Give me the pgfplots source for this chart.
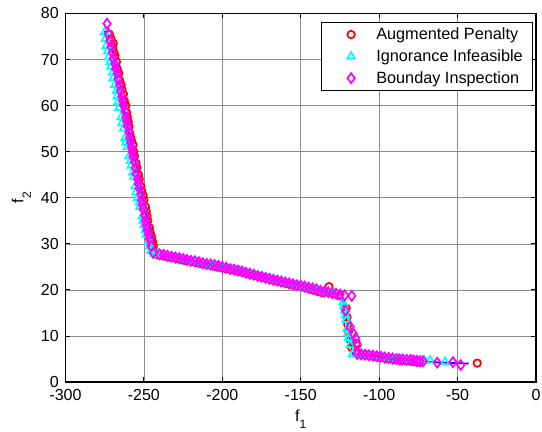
\documentclass[border=0pt]{standalone}
\usepackage{fontspec}
\setmainfont{Liberation Sans}
\usepackage{pgfplots}
\pgfplotsset{compat=1.18}

\definecolor{mred}{rgb}{1,0,0}
\definecolor{mcyan}{rgb}{0,1,1}
\definecolor{mmag}{rgb}{1,0,1}
\definecolor{mblue}{rgb}{0,0,1}

% MATLAB-like subscript: set mostly below the baseline
\newcommand\lsub[1]{\raisebox{-5.5pt}{\fontsize{9}{10}\selectfont #1}}

\pgfplotsset{
  mylegend/.style={legend image code/.code={%
    \draw[##1] plot coordinates {(15.75pt,0pt)};
    \path (0pt,0pt) (32pt,0pt);}},
}

\begin{document}
\begin{tikzpicture}
\begin{axis}[
    scale only axis,
    width=352.9pt, height=276.4pt,
    xmin=-300, xmax=0, ymin=0, ymax=80,
    xtick={-300,-250,...,0}, ytick={0,10,...,80},
    grid=major,
    major grid style={gray!90, line width=0.4pt},
    axis line style={line width=1.2pt},
    tick align=inside,
    major tick length=3.5pt,
    tick style={black, line width=0.6pt},
    /pgf/number format/assume math mode=true,
    ticklabel style={font=\fontsize{12}{14}\selectfont},
    xticklabel style={yshift=-2pt},
    yticklabel style={xshift=-1.5pt},
    xlabel={f\lsub{1}},
    ylabel={f\lsub{2}},
    label style={font=\fontsize{12}{14}\selectfont},
    xlabel style={at={(axis description cs:0.5,0)}, anchor=north, yshift=-17.5pt},
    ylabel style={at={(axis description cs:0,0.5)}, anchor=south, yshift=22.5pt},
    legend style={at={(rel axis cs:0.994,0.977)}, anchor=north east,
        font=\fontsize{12.2}{14}\selectfont, draw=black, line width=0.6pt,
        row sep=2pt, inner xsep=5.5pt, inner ysep=2pt},
    legend cell align=left,
    every axis plot/.append style={line width=1.3pt},
]

\addplot[only marks, mylegend, mred, mark=o, mark size=2.8pt] coordinates {
(-272,75.5) (-271,74.5) (-269.5,73.5) (-270,72.5) (-270.5,73) (-269,71.5) (-268.5,70.8)
(-267.5,69.5) (-267,68) (-266,67) (-265.5,65.5) (-264.5,64.5) (-264,63.5) (-263,62.5)
(-262.5,61) (-261.5,60) (-261,58.5) (-260.5,57.5) (-260,56.5) (-259.5,55.5) (-259,54)
(-258.5,53.2) (-258,52.5) (-257,51.5) (-256.5,50) (-256,49) (-255,47.5) (-254.5,46.5)
(-253.5,45) (-253,44) (-252,42.5) (-251.5,41.5) (-250.5,40.5) (-250,39.5) (-249,38)
(-248.5,37) (-248,36) (-247.5,35) (-246.5,33.5) (-246,32.5) (-245,31.5) (-244.5,30.5)
(-244,29.5) (-243,28.2)
(-241,27.6) (-238.5,27.5) (-236,27.3) (-233.5,27.1) (-231,27.0) (-228.5,26.8) (-226,26.6)
(-223.5,26.4) (-221,26.3) (-218.5,26.1) (-216,25.9) (-213.5,25.7) (-211,25.6) (-208.5,25.4)
(-206,25.2) (-203.5,25.0) (-201,24.9) (-198.5,24.7) (-196,24.6) (-193.5,24.4) (-191,24.1)
(-188.5,24.0) (-186,23.8) (-183.5,23.5) (-181,23.3) (-178.5,23.1) (-176,22.9) (-173.5,22.7)
(-171,22.5) (-168.5,22.2) (-166,22.0) (-163.5,21.8) (-161,21.6) (-158.5,21.4) (-156,21.2)
(-153.5,21.0) (-151,20.9) (-148.5,20.6) (-146,20.4) (-143.5,20.1) (-141,19.9) (-138.5,19.6)
(-136,19.4) (-132,20.7) (-129,19.1) (-126,18.8)
(-121,16) (-120.5,14) (-120,12.5) (-119.5,11) (-118.5,9.2) (-114.5,8.4) (-117.5,7.5)
(-113,6.2) (-110.5,6.0) (-108,5.9) (-105.5,5.7) (-103,5.6) (-100.5,5.4) (-98,5.3)
(-95.5,5.1) (-93,5.0) (-90.5,4.9) (-88,4.8) (-86,4.7) (-84,4.7) (-82,4.6) (-80,4.5)
(-78.5,4.5) (-77,4.4) (-75.5,4.3) (-74,4.3) (-37.5,4.1)
};
\addlegendentry{Augmented Penalty}

\addplot[only marks, mylegend, mcyan, mark=triangle, mark size=3.3pt] coordinates {
(-275,76) (-274.5,74.5) (-274,73) (-273,71.8) (-272.5,70.5) (-271.5,69.5) (-271,68.5)
(-270,67.2) (-269.5,66) (-268.5,64.5) (-267.5,63.2) (-267,62) (-266.5,60.8) (-266,59.5)
(-264.5,57.5) (-264,56.2) (-263,55) (-262,53) (-261.5,52) (-260.5,51) (-259.5,49)
(-258.5,48) (-258,47) (-257,45.5) (-256.5,44.5) (-255.5,42.5) (-255,41.2) (-254,40)
(-253,39) (-252.5,38) (-251,36) (-250.5,35) (-250,34) (-249,33) (-248.5,32)
(-247,30.5) (-246,29.5) (-245.5,28.5) (-243,27.8)
(-241,27.8) (-239,27.6) (-237,27.5) (-234.5,27.3) (-232,27.1) (-229.5,27.0) (-227,26.8)
(-224.5,26.6) (-222,26.4) (-219.5,26.2) (-217,26.1) (-214.5,25.9) (-212,25.7) (-209.5,25.5)
(-207,25.3) (-204.5,25.2) (-202,25.0) (-199.5,24.8) (-197,24.7) (-194.5,24.5) (-192,24.3)
(-189.5,24.1) (-187,23.9) (-184.5,23.7) (-182,23.5) (-179.5,23.3) (-177,23.1) (-174.5,22.9)
(-172,22.6) (-169.5,22.4) (-167,22.2) (-164.5,22.0) (-162,21.8) (-159.5,21.6) (-157,21.4)
(-154.5,21.2) (-152,21.0) (-149.5,20.7) (-147,20.5) (-144.5,20.3) (-142,20.1) (-139.5,19.9)
(-137,19.7) (-134.5,19.4) (-132,19.2) (-129.5,19.0) (-127,18.9)
(-123,17.3) (-122.5,16.5) (-122,15.5) (-121.5,14.5) (-121,13.5) (-120.5,11.5) (-120,10.5)
(-119.5,9.5) (-118.5,8) (-117,6)
(-114.5,6.0) (-112,5.9) (-109,5.8) (-106,5.6) (-103,5.5) (-100,5.4) (-97,5.2) (-94,5.1)
(-91,5.0) (-88,4.9) (-85,4.8) (-82,4.7) (-79,4.6) (-76,4.6) (-73.5,4.6) (-71,4.6)
(-67.5,4.7) (-58,4.4)
};
\addlegendentry{Ignorance Infeasible}

\addplot[only marks, mylegend, mmag, mark=diamond, mark size=3.7pt] coordinates {
(-273.5,77.8) (-272.5,75.5) (-271.5,74) (-271,72.8) (-270,71.5) (-269.5,70.2) (-268.5,69)
(-268,68) (-267,67) (-266.5,65.8) (-265.5,64.5) (-265,63.2) (-264,62) (-263.5,61)
(-263,60) (-262,58.8) (-261.5,57.5) (-261,56.5) (-260.5,55.5) (-259.5,54.2) (-259,53)
(-258.5,52) (-258,51) (-257.5,50) (-257,49) (-256,47.8) (-255.5,46.5) (-255,45.2)
(-254,44) (-253.5,43) (-253,42) (-252,40.8) (-251.5,39.5) (-251,38.5) (-250.5,37.5)
(-249.5,36.2) (-249,35) (-248.5,34) (-248,33) (-247,32) (-246.5,31) (-245.5,29.5)
(-244,28)
(-240,27.7) (-237.5,27.6) (-235,27.4) (-232.5,27.2) (-230,27) (-227.5,26.9) (-225,26.7)
(-222.5,26.5) (-220,26.3) (-217.5,26.2) (-215,26) (-212.5,25.8) (-210,25.6) (-207.5,25.5)
(-205,25.4) (-202.5,25.2) (-200,25.0) (-197.5,24.8) (-195,24.5) (-192.5,24.4) (-190,24.2)
(-187.5,24.0) (-185,23.7) (-182.5,23.5) (-180,23.3) (-177.5,23.0) (-175,22.8) (-172.5,22.6)
(-170,22.4) (-167.5,22.2) (-165,22.0) (-162.5,21.8) (-160,21.6) (-157.5,21.4) (-155,21.2)
(-152.5,21.0) (-150,20.9) (-147.5,20.7) (-145,20.5) (-142.5,20.3) (-140,20.1) (-137.5,19.8)
(-135,19.6) (-132.5,19.5) (-130,19.3) (-127.5,19.2) (-125,19.0) (-122,18.8) (-117.5,18.7)
(-121.5,15.5) (-118.5,12) (-116.5,10.5) (-115,9.5) (-114,8)
(-114,6.1) (-111.5,6.0) (-109,5.9) (-106.5,5.8) (-104,5.7) (-101.5,5.6) (-99,5.5)
(-96.5,5.3) (-94,5.2) (-91.5,5.1) (-89,5.0) (-87,4.9) (-85,4.9) (-82.5,4.8) (-80,4.8)
(-78,4.7) (-76,4.6) (-74,4.5) (-72,4.5) (-63,4.2) (-53,4.3) (-48,3.7)
};
\addlegendentry{Bounday Inspection}

\addplot[mblue, line width=1.3pt, forget plot] coordinates {
(-274.8,76.2) (-264.3,61.0) (-242,28) (-220,26.6) (-195.5,24.9) (-170,23)
(-150,21.2) (-135,19.8) (-123.6,18.5) (-120,12) (-116.8,6.1) (-100,5.4)
(-80,4.6) (-60,4.2) (-43,4.0)
};

\end{axis}
\pgfresetboundingbox
\path ([xshift=-49.1pt,yshift=-37.5pt]current axis.south west) rectangle ([xshift=4.5pt,yshift=10.1pt]current axis.north east);
\end{tikzpicture}
\end{document}
